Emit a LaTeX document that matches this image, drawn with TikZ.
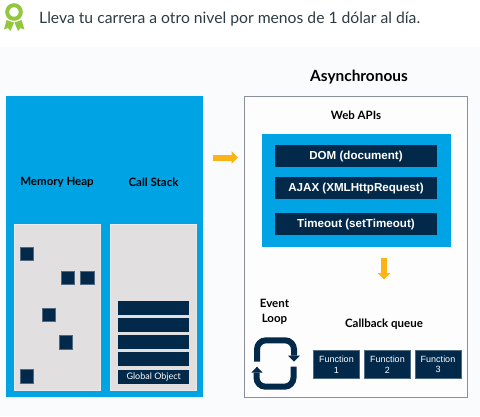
\documentclass[tikz,border=0pt]{standalone}
\usepackage{fontspec}
\setmainfont{Lato}
\newfontfamily\arialfont{Liberation Sans}
\usepackage{xcolor}
\usetikzlibrary{arrows.meta,positioning,fit,calc}
\definecolor{skyblue}{HTML}{00A4E4}
\definecolor{navybar}{HTML}{03294A}
\definecolor{panelgray}{HTML}{E1DFE0}
\definecolor{pagegray}{HTML}{FAFBFC}
\definecolor{amber}{HTML}{FCB316}
\definecolor{ribbon}{HTML}{93C83E}
\definecolor{framegray}{HTML}{8C8F9C}
\definecolor{headertext}{HTML}{2D3B45}

\begin{document}
\begin{tikzpicture}[
          x=1pt, y=-1pt,
          box/.style={rectangle, inner sep=0pt, outer sep=0pt},
          bluepanel/.style={box, fill=skyblue},
          graypanel/.style={box, fill=panelgray, draw=panelgray!70!white, minimum width=86pt, minimum height=166pt},
          heapcell/.style={box, fill=navybar, draw=navybar!70!white, line width=0.4pt, minimum width=13.5pt, minimum height=13.5pt},
          stackbar/.style={box, fill=navybar, minimum width=71.5pt, minimum height=14pt, text=white, font=\fontsize{9}{9}\selectfont},
          apibar/.style={box, fill=navybar, minimum width=162pt, minimum height=22pt, text=white, text height=9pt, text depth=1pt, font=\arialfont\bfseries\fontsize{11.6}{11.6}\selectfont},
          funcbox/.style={box, fill=navybar, draw=navybar!70!white, line width=0.4pt, minimum width=46pt, minimum height=28pt, align=center, text=white, font=\arialfont\fontsize{9}{10.5}\selectfont},
          title/.style={font=\bfseries\fontsize{11.5}{14.5}\selectfont, text=black, align=center, inner sep=0pt},
          flowarrow/.style={draw=amber, line width=6pt, -{Triangle[width=12.5pt,length=6.5pt]}},
          loopline/.style={line width=6pt, draw=navybar, line cap=butt, rounded corners=9pt}
        ]
          \useasboundingbox (0,0) rectangle (480,416);

          % page and header line
          \fill[pagegray] (0,47) rectangle (480,416);
          \node[anchor=west, inner sep=0pt, text=headertext, font=\fontsize{15.7}{17}\selectfont] (header) at (39,19.5) {Lleva tu carrera a otro nivel por menos de 1 dólar al día.};

          % green badge
          \fill[ribbon] (6.5,20) -- (4,29.5) -- (8,28) -- (10.5,31) -- (14,22.5) -- cycle;
          \fill[ribbon] (21.5,20) -- (24.5,29.5) -- (20.5,28) -- (18,31) -- (14.5,22.5) -- cycle;
          \draw[ribbon, line width=4pt] (14,12) circle (6.8pt);

          % left side
          \node[bluepanel, minimum width=197pt, minimum height=301pt] (engine) at (104,246.5) {};
          \node[graypanel] (heap) at (57,307) {};
          \node[graypanel] (stack) at (153.5,307) {};
          \node[title] (heaplabel) at (57,182) {Memory Heap};
          \node[title] (stacklabel) at (153.5,182) {Call Stack};

          \foreach \name/\px/\py in {a/26.7/253.5, b/67.7/277.7, c/87.2/277.7, d/48.7/314.7, e/65.5/342, f/26.7/376}
            \node[heapcell] (cell\name) at (\px,\py) {};

          \foreach \i/\py in {1/307.6, 2/325, 3/342, 4/359.2}
            \node[stackbar] (frame\i) at (153.7,\py) {};
          \node[stackbar] (global) at (153.7,376.5) {Global Object};

          % right side
          \node[title, font=\bfseries\fontsize{15.4}{17}\selectfont] (asynclabel) at (359,77.5) {Asynchronous};
          \node[box, draw=framegray, line width=0.9pt, fill=white!60!pagegray, minimum width=223pt, minimum height=301.5pt] (async) at (355.5,246.7) {};
          \node[title] (weblabel) at (356,115.5) {Web APIs};

          \node[bluepanel, minimum width=189pt, minimum height=113pt] (webapis) at (356.5,190) {};
          \node[apibar] (dom) at (356,155.5) {DOM (document)};
          \node[apibar] (ajax) at (356,187.5) {AJAX (XMLHttpRequest)};
          \node[apibar] (timeout) at (356,223.5) {Timeout (setTimeout)};

          % the two amber arrows
          \coordinate (enginegap) at (213,157.5);
          \coordinate (asyncgap) at (238,157.5);
          \coordinate (queuetop) at (384,258);
          \coordinate (queuegap) at (384,279.5);
          \draw[flowarrow] (enginegap) -- (asyncgap);
          \draw[flowarrow] (queuetop) -- (queuegap);

          % event loop and queue
          \node[title] (looplabel) at (274.5,312) {Event\\Loop};
          \node[title] (queuelabel) at (384,324) {Callback queue};
          \node[funcbox] (fone) at (336.5,364.5) {Function\\1};
          \node[funcbox] (ftwo) at (387.5,364.5) {Function\\2};
          \node[funcbox] (fthree) at (438,364.5) {Function\\3};

          % loop icon
          \draw[loopline] (257,361.7) -- (257,340.3) -- (294,340.3) -- (294,355.5);
          \draw[loopline] (256.5,372.5) -- (256.5,386.7) -- (293.5,386.7) -- (293.5,366.7);
          \fill[navybar] (288,355.5) -- (300,355.5) -- (294,361.5) -- cycle;
          \fill[navybar] (251.5,372.5) -- (262.5,372.5) -- (257,366.7) -- cycle;
        \end{tikzpicture}
\end{document}
